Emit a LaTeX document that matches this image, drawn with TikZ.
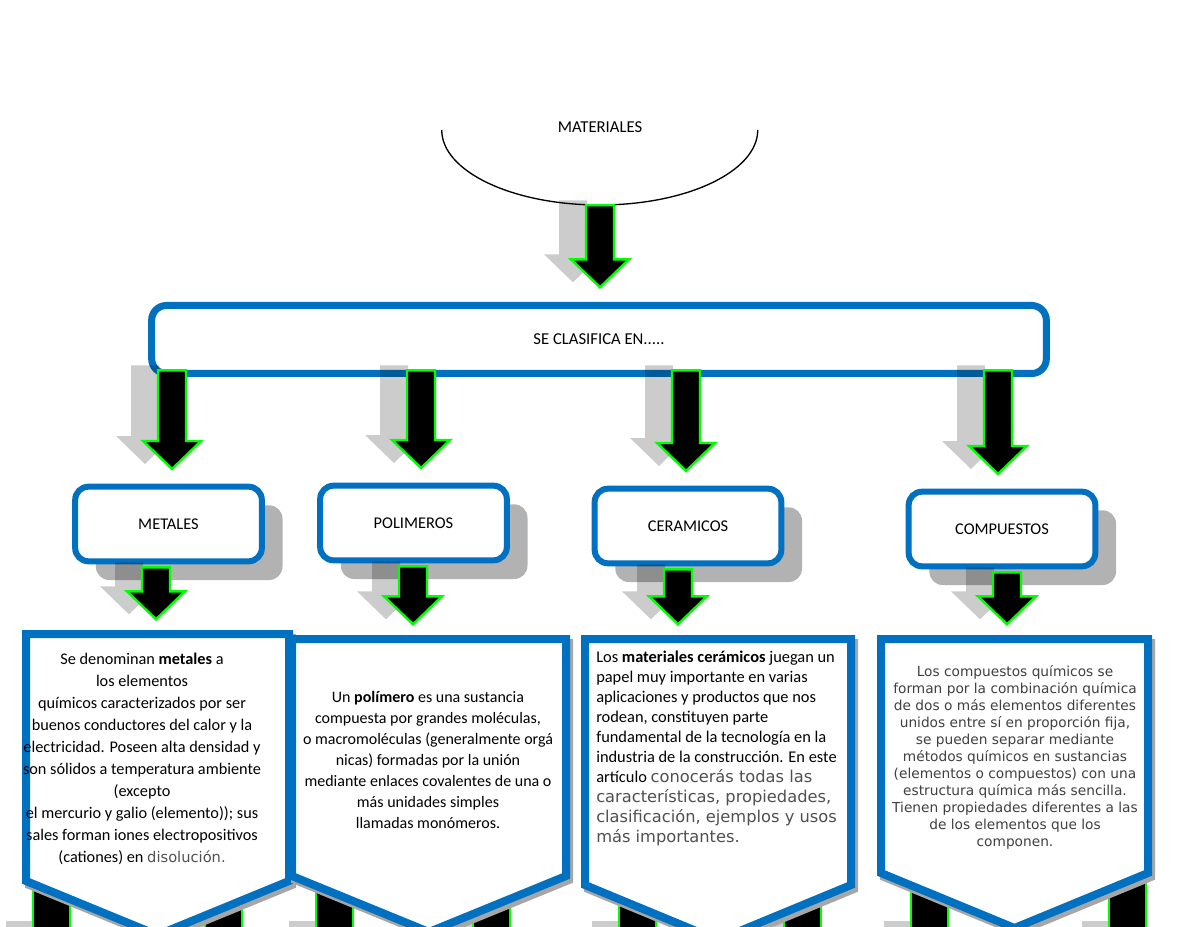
\documentclass[tikz,border=0pt]{standalone}
\usepackage{fontspec}
\setmainfont{Carlito}
\newfontfamily\dejavu{DejaVu Sans}
\usepackage{tikz}
\usetikzlibrary{calc,positioning,shapes.geometric,shadows}
\definecolor{cBlue}{HTML}{0070C0}
\definecolor{cGreen}{HTML}{00FF00}
\definecolor{cText}{HTML}{404040}
\definecolor{cSoft}{HTML}{505050}

\tikzset{
  arrowbody/.style={fill=black,draw=cGreen,line width=1.8pt,line join=miter},
  arrowshade/.style={fill=black,fill opacity=0.2},
  sebox/.style={draw=cBlue,line width=5.25pt,fill=white,rounded corners=11pt,
    minimum width=671pt,minimum height=51pt,font=\fontsize{12.5}{14}\selectfont,
    drop shadow={shadow xshift=1.2pt,shadow yshift=-1.2pt,fill=black,opacity=0.8}},
  catbox/.style={draw=cBlue,line width=4.5pt,fill=white,rounded corners=10pt,
    minimum width=140pt,minimum height=56pt,font=\fontsize{12.3}{14}\selectfont,
    drop shadow={shadow xshift=15.5pt,shadow yshift=-14pt,fill=black,opacity=0.3}},
  infobox/.style={draw=cBlue,line width=6pt,fill=white,line join=miter},
  infoshade/.style={draw=black!35,fill=black!35,line width=6pt,line join=miter},
  infotext/.style={align=center,inner sep=0pt,font=\fontsize{12.2}{16.5}\selectfont},
  bar/.style={fill=black,draw=cGreen,line width=1.8pt}
}

% block arrow between (ba-s) and (ba-t)
\newcommand\arrowpoly[4]{%
  \path[#1] let \p1=(ba-s), \p2=(ba-t) in
    ({\x1+(#3)-10.5pt},{\y1+(#2)+(#4)}) -- ({\x1+(#3)-10.5pt},{\y2+32pt+(#4)})
    -- ({\x1+(#3)-21.75pt},{\y2+32pt+(#4)}) -- ({\x1+(#3)},{\y2+11pt+(#4)})
    -- ({\x1+(#3)+21.75pt},{\y2+32pt+(#4)}) -- ({\x1+(#3)+10.5pt},{\y2+32pt+(#4)})
    -- ({\x1+(#3)+10.5pt},{\y1+(#2)+(#4)}) -- cycle;}
\newcommand\blockarrow[4][0pt]{%
  \coordinate (ba-s) at (#2,0 |- #3);
  \coordinate (ba-t) at (#2,0 |- #4);
  \arrowpoly{arrowshade}{#1}{-20.25pt}{3.75pt}
  \arrowpoly{arrowbody}{#1}{0pt}{0pt}}

\begin{document}
\begin{tikzpicture}[x=0.75pt,y=-0.75pt]
  \useasboundingbox (0,0) rectangle (1200,927);
  \clip (0,0) rectangle (1200,927);
  \fill[white] (0,0) rectangle (1200,927);

  % arrows running off the page
  \foreach \b in {33,205,316,473,619,784,911,1109}{
    \fill[arrowshade] (\b-27,921) rectangle (\b,935);
    \draw[bar] (\b,870) rectangle (\b+37,940);
  }

  % text boxes
  \foreach \l/\r/\t/\s/\a/\n in {26/289/634/881/935/metbox,292/566/639/876/932/polbox,
      585/851/639/885/940/cerbox,881/1148/639/873/928/combox}{
    \filldraw[infoshade] (\l+3,\t+4) -- (\r+3,\t+4) -- (\r+3,\s+4) -- ({(\l+\r)/2+3},\a+4) -- (\l+3,\s+4) -- cycle;
    \draw[infobox] (\l,\t) -- (\r,\t) -- (\r,\s) -- ({(\l+\r)/2},\a) -- (\l,\s) -- cycle;
    \coordinate (\n) at ({(\l+\r)/2},\t);
  }

  \node[infotext] (metalestxt) at (142,759) {Se denominan \textbf{metales} a\\
    los elementos\\ químicos caracterizados por ser\\ buenos conductores del calor y la\\
    electricidad. Poseen alta densidad y\\ son sólidos a temperatura ambiente\\ (excepto\\
    el mercurio y galio (elemento)); sus\\ sales forman iones electropositivos\\
    (cationes) en {\dejavu\fontsize{11}{16.5}\selectfont\color{cSoft}disolución.}};
  \node[infotext,font=\fontsize{12}{15.75}\selectfont] (polimerostxt) at (428,760) {Un \textbf{polímero} es una sustancia\\
    compuesta por grandes moléculas,\\ o macromoléculas (generalmente orgá\\
    nicas) formadas por la unión\\ mediante enlaces covalentes de una o\\
    más unidades simples\\ llamadas monómeros.};
  \node[infotext,align=left,anchor=west,font=\fontsize{12.3}{15}\selectfont] (ceramicostxt) at (596,748)
    {Los \textbf{materiales cerámicos} juegan un\\ papel muy importante en varias\\
    aplicaciones y productos que nos\\ rodean, constituyen parte\\
    fundamental de la tecnología en la\\ industria de la construcción. En este\\
    artículo {\dejavu\fontsize{12.2}{15}\selectfont\color{cSoft}conocerás todas las}\\
    {\dejavu\fontsize{12.2}{15}\selectfont\color{cSoft}características, propiedades,}\\
    {\dejavu\fontsize{12.2}{15}\selectfont\color{cSoft}clasificación, ejemplos y usos}\\
    {\dejavu\fontsize{12.2}{15}\selectfont\color{cSoft}más importantes.}};
  \node[infotext,font=\dejavu\fontsize{10.3}{12.75}\selectfont,text=cText] (compuestostxt) at (1015,757)
    {Los compuestos químicos se\\ forman por la combinación química\\
    de dos o más elementos diferentes\\ unidos entre sí en proporción fija,\\
    se pueden separar mediante\\ métodos químicos en sustancias\\
    (elementos o compuestos) con una\\ estructura química más sencilla.\\
    Tienen propiedades diferentes a las\\ de los elementos que los\\ componen.};

  % top of the map
  \node[ellipse,minimum width=237pt,minimum height=112.5pt,inner sep=0pt,
    font=\fontsize{12.5}{14}\selectfont] (materiales) at (600,130) {\raisebox{5pt}{MATERIALES}};
  \draw[line width=1pt] (materiales.west) arc[start angle=180,end angle=360,x radius=118.5pt,y radius=56.25pt];
  \node[sebox] (clasifica) at (599,339.5) {SE CLASIFICA EN.....};
  \blockarrow{600}{materiales.south}{clasifica.north}

  \node[catbox] (metales) at (168.5,524) {METALES};
  \node[catbox] (polimeros) at (413.5,523) {POLIMEROS};
  \node[catbox] (ceramicos) at (688,526) {CERAMICOS};
  \node[catbox] (compuestos) at (1002,529) {COMPUESTOS};

  \blockarrow[5pt]{172}{clasifica.south}{metales.north}
  \blockarrow[5pt]{421}{clasifica.south}{polimeros.north}
  \blockarrow[5pt]{686}{clasifica.south}{ceramicos.north}
  \blockarrow[5pt]{998}{clasifica.south}{compuestos.north}

  \blockarrow[-2.25pt]{156}{metales.south}{metbox}
  \blockarrow[-2.25pt]{413}{polimeros.south}{polbox}
  \blockarrow[-2.25pt]{678}{ceramicos.south}{cerbox}
  \blockarrow[-2.25pt]{1007}{compuestos.south}{combox}
\end{tikzpicture}
\end{document}
